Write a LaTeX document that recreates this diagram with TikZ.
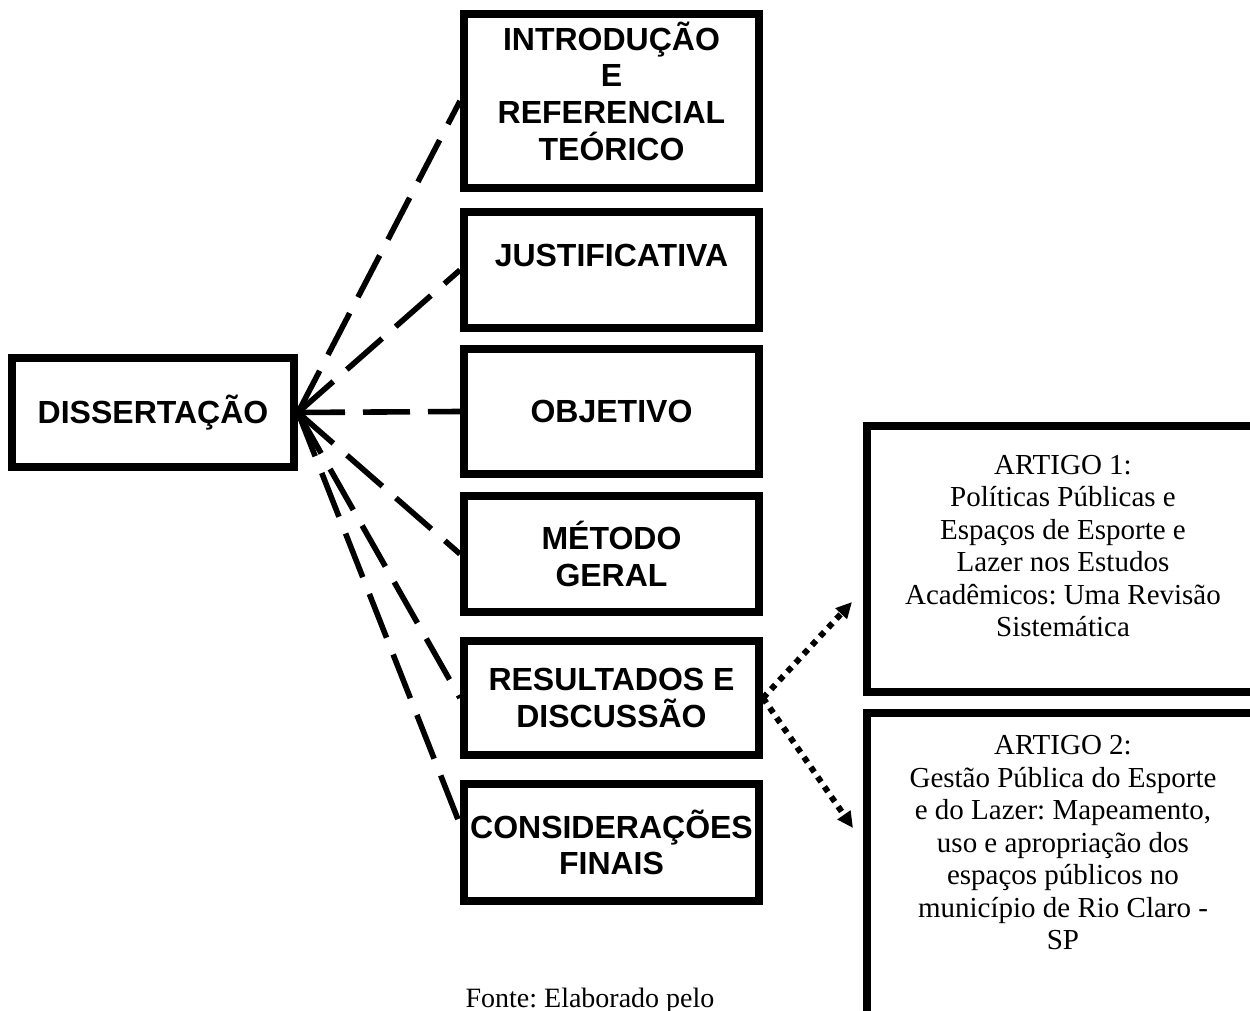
\documentclass[tikz,border=0pt]{standalone}
\usepackage{fontspec}
\setmainfont{Liberation Serif}
\newfontfamily\arialfont{Liberation Sans}
\frenchspacing
\usetikzlibrary{arrows.meta,calc}
\tikzset{
  box/.style={draw,line width=4pt,align=center,font=\arialfont\bfseries\fontsize{16}{18.3}\selectfont,inner sep=2pt},
  plain/.style={},
  raised/.style={text depth=15pt},
  lifted/.style={text depth=10pt},
  art/.style={draw,line width=4pt,minimum width=196pt},
  arttxt/.style={align=center,font=\fontsize{14.5}{16.25}\selectfont},
  dsh/.style={line width=2.8pt,dash pattern=on 23.5pt off 9pt},
  dotarr/.style={line width=3pt,dash pattern=on 3pt off 3pt,-{Triangle[length=8pt,width=7.5pt]}}
}
\begin{document}
\begin{tikzpicture}[x=0.5pt,y=-0.5pt]
\useasboundingbox (0,0) rectangle (1250,1011);
\clip (0,0) rectangle (1250,1011);
\node[box,minimum width=141pt,minimum height=54.5pt] (diss) at (153,412.5) {DISSERTAÇÃO};
\foreach \i/\y/\h/\st/\txt in {
{1}/{101}/{87}/{lifted}/{INTRODUÇÃO\\E\\REFERENCIAL\\TEÓRICO},
{2}/{270}/{58}/{raised}/{JUSTIFICATIVA},
{3}/{411.5}/{62.5}/{plain}/{OBJETIVO},
{4}/{554}/{58}/{plain}/{MÉTODO\\GERAL},
{5}/{698}/{57}/{plain}/{RESULTADOS E\\DISCUSSÃO},
{6}/{842.5}/{58.5}/{plain}/{CONSIDERAÇÕES\\FINAIS}}{
  \node[box,minimum width=147.5pt,minimum height=\h pt,\st] (b\i) at (611.5,\y) {\txt};
}
\foreach \i in {1,...,5}{
  \draw[dsh] (diss.east) -- (b\i.west);
}
\draw[dsh] (diss.east) -- ([yshift=9pt]b6.west);
% artigos
\node[art,minimum height=133pt] (a1) at (1063,559) {};
\node[arttxt] (t1) at (1063,546) {ARTIGO 1:\\Políticas Públicas e\\Espaços de Esporte e\\Lazer nos Estudos\\Acadêmicos: Uma Revisão\\Sistemática};
\node[art,minimum height=163.5pt] (a2) at (1063,876.5) {};
\node[arttxt] (t2) at (1063,843) {ARTIGO 2:\\Gestão Pública do Esporte\\e do Lazer: Mapeamento,\\uso e apropriação dos\\espaços públicos no\\município de Rio Claro -\\SP};
\coordinate (p1) at (852,602);
\coordinate (p2) at (853,828);
\draw[dotarr] (b5.east) -- (p1);
\draw[dotarr] (b5.east) -- (p2);
\node[font=\fontsize{14}{16}\selectfont,anchor=base] (fonte) at (590,1007) {Fonte: Elaborado pelo};
\end{tikzpicture}
\end{document}
